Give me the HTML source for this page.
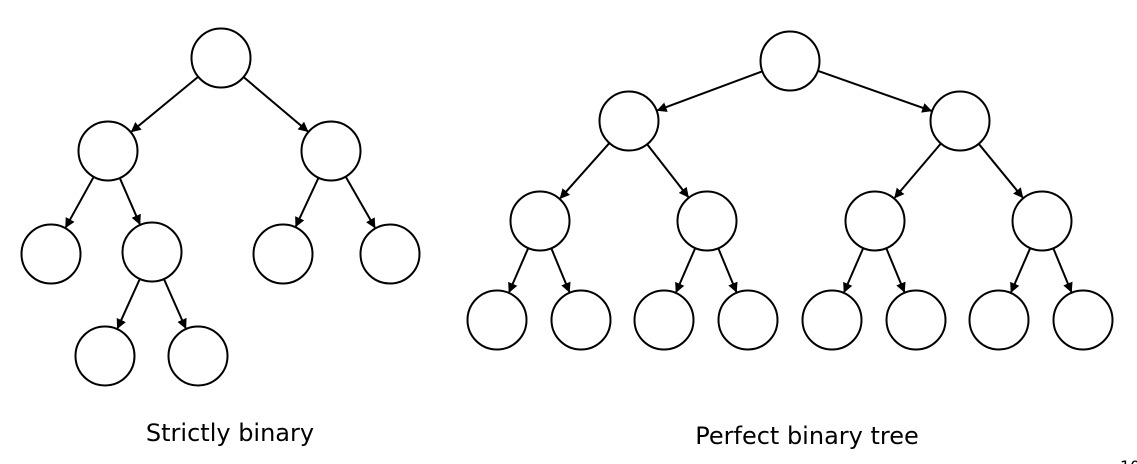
<!DOCTYPE html>
<html><head><meta charset="utf-8"><style>
html,body{margin:0;padding:0;background:#fff;width:1137px;height:464px;overflow:hidden}
svg text{font-family:"DejaVu Sans","Liberation Sans",sans-serif}
</style></head><body>
<svg id="s" width="1137" height="464" viewBox="0 0 1137 464" xmlns="http://www.w3.org/2000/svg">
<defs><marker id="a" markerWidth="10" markerHeight="10" refX="9" refY="5" orient="auto" markerUnits="userSpaceOnUse"><path d="M0,0 L10,5 L0,10 z" fill="#000"/></marker></defs>
<text x="230" y="441" font-size="24" text-anchor="middle" fill="#000">Strictly binary</text>
<text x="807" y="444" font-size="24" text-anchor="middle" fill="#000">Perfect binary tree</text>
<text x="1120" y="472" font-size="16" fill="#000">10</text>
</svg>
<script>
var s=document.getElementById('s'),ns='http://www.w3.org/2000/svg',R=29.5;
var N={a:[221,58],b:[108,151],c:[331,151],d:[51,254],e:[152,252],f:[283,254],g:[390,254],h:[105,356],i:[198,356],
A:[790,61],B:[629,121],C:[960,121],D:[540,221],E:[707,221],F:[875,221],G:[1042,221],
H1:[497,320],H2:[581,320],H3:[664,320],H4:[748,320],H5:[832,320],H6:[916,320],H7:[999,320],H8:[1083,320]};
var E=[['a','b'],['a','c'],['b','d'],['b','e'],['c','f'],['c','g'],['e','h'],['e','i'],
['A','B'],['A','C'],['B','D'],['B','E'],['C','F'],['C','G'],['D','H1'],['D','H2'],['E','H3'],['E','H4'],['F','H5'],['F','H6'],['G','H7'],['G','H8']];
E.forEach(function(e){var p=N[e[0]],q=N[e[1]],dx=q[0]-p[0],dy=q[1]-p[1],L=Math.hypot(dx,dy),ux=dx/L,uy=dy/L;
var l=document.createElementNS(ns,'line');l.setAttribute('x1',p[0]+ux*R);l.setAttribute('y1',p[1]+uy*R);
l.setAttribute('x2',q[0]-ux*(R+1));l.setAttribute('y2',q[1]-uy*(R+1));l.setAttribute('stroke','#000');l.setAttribute('stroke-width','2');l.setAttribute('marker-end','url(#a)');s.appendChild(l);});
for(var k in N){var c=document.createElementNS(ns,'circle');c.setAttribute('cx',N[k][0]);c.setAttribute('cy',N[k][1]);c.setAttribute('r',R);c.setAttribute('fill','#fff');c.setAttribute('stroke','#000');c.setAttribute('stroke-width','2');s.appendChild(c);}
</script>
</body></html>
